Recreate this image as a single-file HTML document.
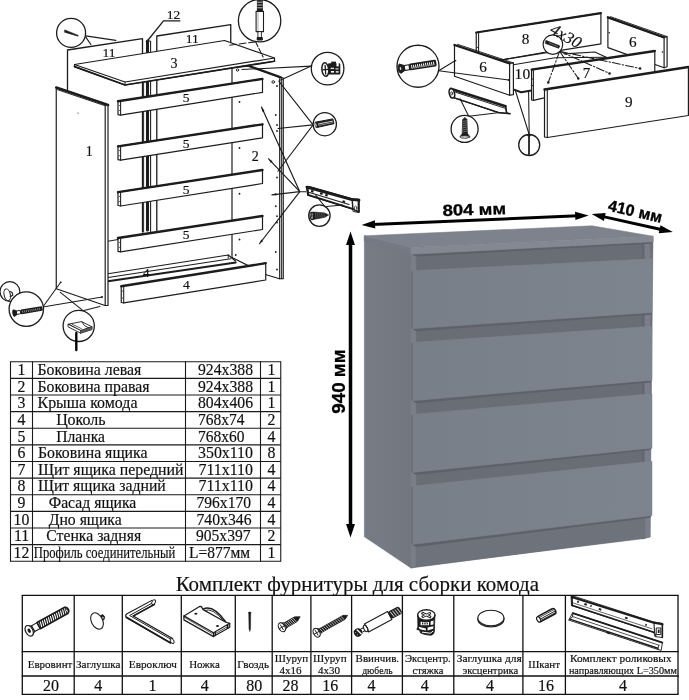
<!DOCTYPE html>
<html><head><meta charset="utf-8"><title>Комод</title>
<style>
html,body{margin:0;padding:0;background:#fff;}
body{width:689px;height:700px;overflow:hidden;font-family:"Liberation Serif",serif;}
svg{display:block;}
</style></head><body>
<svg style="will-change:transform;filter:blur(0.4px)" width="689" height="700" viewBox="0 0 689 700">
<rect width="689" height="700" fill="#fff"/>
<g id="dresser">
<defs><linearGradient id="gSide" x1="0" y1="0" x2="1" y2="0"><stop offset="0" stop-color="#767b85"/><stop offset="1" stop-color="#72777f"/></linearGradient><linearGradient id="gDraw" x1="0" y1="0" x2="1" y2="0"><stop offset="0" stop-color="#797f89"/><stop offset="1" stop-color="#7e848e"/></linearGradient></defs>
<polygon points="364.30,236.00 410.90,247.50 410.90,568.00 364.30,536.80" fill="url(#gSide)" stroke="url(#gSide)" stroke-width="0.5" />
<polygon points="410.75,250.00 653.00,238.00 650.00,537.00 410.75,568.00" fill="#696d76" stroke="#696d76" stroke-width="0.5" />
<polygon points="410.90,254.25 416.00,254.00 416.00,567.00 410.90,568.00" fill="#797e88" stroke="#797e88" stroke-width="0.5" />
<polygon points="642.20,242.20 644.80,242.10 644.80,538.40 642.20,538.90" fill="#626770" stroke="#626770" stroke-width="0.5" />
<polygon points="644.80,242.20 650.20,241.90 650.20,537.00 644.80,538.50" fill="#797e88" stroke="#797e88" stroke-width="0.5" />
<polygon points="416.00,545.00 644.80,516.50 644.80,538.50 416.00,566.60" fill="#6d727b" stroke="#6d727b" stroke-width="0.5" />
<polygon points="412.00,328.75 652.00,312.50 650.00,314.70 416.00,331.15" fill="#5d616a" />
<polygon points="411.60,270.75 652.00,258.75 652.00,312.50 411.60,328.75" fill="url(#gDraw)" stroke="url(#gDraw)" stroke-width="0.5" />
<line x1="412.00" y1="271.25" x2="412.00" y2="328.45" stroke="#646973" stroke-width="1.30" />
<polygon points="412.00,400.75 652.00,380.20 650.00,382.40 416.00,403.15" fill="#5d616a" />
<polygon points="411.60,342.50 652.00,326.25 652.00,380.20 411.60,400.75" fill="url(#gDraw)" stroke="url(#gDraw)" stroke-width="0.5" />
<line x1="412.00" y1="343.00" x2="412.00" y2="400.45" stroke="#646973" stroke-width="1.30" />
<polygon points="412.00,472.50 652.00,447.90 650.00,450.10 416.00,474.90" fill="#5d616a" />
<polygon points="411.60,414.50 652.00,393.75 652.00,447.90 411.60,472.50" fill="url(#gDraw)" stroke="url(#gDraw)" stroke-width="0.5" />
<line x1="412.00" y1="415.00" x2="412.00" y2="472.20" stroke="#646973" stroke-width="1.30" />
<polygon points="412.00,544.50 652.00,515.50 650.00,517.70 416.00,546.90" fill="#5d616a" />
<polygon points="411.60,486.25 652.00,461.25 652.00,515.50 411.60,544.50" fill="url(#gDraw)" stroke="url(#gDraw)" stroke-width="0.5" />
<line x1="412.00" y1="486.75" x2="412.00" y2="544.20" stroke="#646973" stroke-width="1.30" />
<polygon points="410.90,254.25 653.25,241.75 650.00,243.80 416.00,256.60" fill="#5d616a" />
<polygon points="364.30,235.75 410.90,247.50 410.90,254.25 364.30,241.00" fill="#747983" stroke="#747983" stroke-width="0.5" />
<polygon points="410.90,247.50 653.25,236.25 653.25,241.75 410.90,254.25" fill="#838892" stroke="#838892" stroke-width="0.5" />
<polygon points="364.30,235.75 592.00,225.75 653.25,236.25 410.90,247.50" fill="#7d828c" stroke="#7d828c" stroke-width="0.5" />
</g>
<g id="dims">
<line x1="372.39" y1="224.45" x2="577.91" y2="215.85" stroke="#000" stroke-width="3.00" />
<polygon points="361.60,224.90 375.26,228.43 374.92,220.24" fill="#000" />
<polygon points="588.70,215.40 575.38,220.06 575.04,211.87" fill="#000" />
<line x1="602.14" y1="216.35" x2="662.26" y2="229.75" stroke="#000" stroke-width="3.00" />
<polygon points="591.60,214.00 603.88,220.94 605.67,212.94" fill="#000" />
<polygon points="672.80,232.10 658.73,233.16 660.52,225.16" fill="#000" />
<line x1="350.50" y1="242.40" x2="350.50" y2="526.80" stroke="#000" stroke-width="3.50" />
<polygon points="350.50,231.60 346.05,245.10 354.95,245.10" fill="#000" />
<polygon points="350.50,537.60 346.05,524.10 354.95,524.10" fill="#000" />
<text x="474.50" y="215.00" font-family="'Liberation Sans', sans-serif" font-size="16" font-weight="bold" text-anchor="middle" fill="#000" textLength="63.7" lengthAdjust="spacingAndGlyphs"  stroke="#000" stroke-width="0.3" transform="rotate(-1.6 474.5 215)">804 мм</text>
<text x="607.20" y="210.60" font-family="'Liberation Sans', sans-serif" font-size="16" font-weight="bold" text-anchor="start" fill="#000" textLength="55" lengthAdjust="spacingAndGlyphs"  stroke="#000" stroke-width="0.35" transform="rotate(12.8 607.2 210.6)">410 мм</text>
<text x="345.00" y="381.50" font-family="'Liberation Sans', sans-serif" font-size="18" font-weight="bold" text-anchor="middle" fill="#000" textLength="64.3" lengthAdjust="spacingAndGlyphs"  stroke="#000" stroke-width="0.3" transform="rotate(-90 345 381.5)">940 мм</text>
</g>
<g id="parts-table">
<line x1="10.50" y1="361.75" x2="280.75" y2="361.75" stroke="#1a1a1a" stroke-width="1.10" />
<line x1="10.50" y1="378.38" x2="280.75" y2="378.38" stroke="#1a1a1a" stroke-width="1.10" />
<line x1="10.50" y1="395.00" x2="280.75" y2="395.00" stroke="#1a1a1a" stroke-width="1.10" />
<line x1="10.50" y1="411.62" x2="280.75" y2="411.62" stroke="#1a1a1a" stroke-width="1.10" />
<line x1="10.50" y1="428.25" x2="280.75" y2="428.25" stroke="#1a1a1a" stroke-width="1.10" />
<line x1="10.50" y1="444.88" x2="280.75" y2="444.88" stroke="#1a1a1a" stroke-width="1.10" />
<line x1="10.50" y1="461.50" x2="280.75" y2="461.50" stroke="#1a1a1a" stroke-width="1.10" />
<line x1="10.50" y1="478.12" x2="280.75" y2="478.12" stroke="#1a1a1a" stroke-width="1.10" />
<line x1="10.50" y1="494.75" x2="280.75" y2="494.75" stroke="#1a1a1a" stroke-width="1.10" />
<line x1="10.50" y1="511.38" x2="280.75" y2="511.38" stroke="#1a1a1a" stroke-width="1.10" />
<line x1="10.50" y1="528.00" x2="280.75" y2="528.00" stroke="#1a1a1a" stroke-width="1.10" />
<line x1="10.50" y1="544.62" x2="280.75" y2="544.62" stroke="#1a1a1a" stroke-width="1.10" />
<line x1="10.50" y1="561.25" x2="280.75" y2="561.25" stroke="#1a1a1a" stroke-width="1.10" />
<line x1="10.50" y1="361.25" x2="10.50" y2="561.75" stroke="#1a1a1a" stroke-width="1.10" />
<line x1="32.50" y1="361.25" x2="32.50" y2="561.75" stroke="#1a1a1a" stroke-width="1.10" />
<line x1="185.50" y1="361.25" x2="185.50" y2="561.75" stroke="#1a1a1a" stroke-width="1.10" />
<line x1="260.50" y1="361.25" x2="260.50" y2="561.75" stroke="#1a1a1a" stroke-width="1.10" />
<line x1="280.75" y1="361.25" x2="280.75" y2="561.75" stroke="#1a1a1a" stroke-width="1.10" />
<text x="21.50" y="375.05" font-family="'Liberation Serif', serif" font-size="15.8" font-weight="normal" text-anchor="middle" fill="#111" stroke="#111" stroke-width="0.18" >1</text>
<text x="37.50" y="375.05" font-family="'Liberation Serif', serif" font-size="15.8" font-weight="normal" text-anchor="start" fill="#111" textLength="103.75" lengthAdjust="spacingAndGlyphs" stroke="#111" stroke-width="0.18" >Боковина левая</text>
<text x="198.00" y="375.05" font-family="'Liberation Serif', serif" font-size="15.8" font-weight="normal" text-anchor="start" fill="#111" textLength="55" lengthAdjust="spacingAndGlyphs" stroke="#111" stroke-width="0.18" >924x388</text>
<text x="271.50" y="375.05" font-family="'Liberation Serif', serif" font-size="15.8" font-weight="normal" text-anchor="middle" fill="#111" stroke="#111" stroke-width="0.18" >1</text>
<text x="21.50" y="391.68" font-family="'Liberation Serif', serif" font-size="15.8" font-weight="normal" text-anchor="middle" fill="#111" stroke="#111" stroke-width="0.18" >2</text>
<text x="37.50" y="391.68" font-family="'Liberation Serif', serif" font-size="15.8" font-weight="normal" text-anchor="start" fill="#111" textLength="112" lengthAdjust="spacingAndGlyphs" stroke="#111" stroke-width="0.18" >Боковина правая</text>
<text x="198.00" y="391.68" font-family="'Liberation Serif', serif" font-size="15.8" font-weight="normal" text-anchor="start" fill="#111" textLength="55" lengthAdjust="spacingAndGlyphs" stroke="#111" stroke-width="0.18" >924x388</text>
<text x="271.50" y="391.68" font-family="'Liberation Serif', serif" font-size="15.8" font-weight="normal" text-anchor="middle" fill="#111" stroke="#111" stroke-width="0.18" >1</text>
<text x="21.50" y="408.30" font-family="'Liberation Serif', serif" font-size="15.8" font-weight="normal" text-anchor="middle" fill="#111" stroke="#111" stroke-width="0.18" >3</text>
<text x="37.50" y="408.30" font-family="'Liberation Serif', serif" font-size="15.8" font-weight="normal" text-anchor="start" fill="#111" textLength="100" lengthAdjust="spacingAndGlyphs" stroke="#111" stroke-width="0.18" >Крыша комода</text>
<text x="198.00" y="408.30" font-family="'Liberation Serif', serif" font-size="15.8" font-weight="normal" text-anchor="start" fill="#111" textLength="55" lengthAdjust="spacingAndGlyphs" stroke="#111" stroke-width="0.18" >804x406</text>
<text x="271.50" y="408.30" font-family="'Liberation Serif', serif" font-size="15.8" font-weight="normal" text-anchor="middle" fill="#111" stroke="#111" stroke-width="0.18" >1</text>
<text x="21.50" y="424.93" font-family="'Liberation Serif', serif" font-size="15.8" font-weight="normal" text-anchor="middle" fill="#111" stroke="#111" stroke-width="0.18" >4</text>
<text x="56.25" y="424.93" font-family="'Liberation Serif', serif" font-size="15.8" font-weight="normal" text-anchor="start" fill="#111" textLength="49.25" lengthAdjust="spacingAndGlyphs" stroke="#111" stroke-width="0.18" >Цоколь</text>
<text x="198.00" y="424.93" font-family="'Liberation Serif', serif" font-size="15.8" font-weight="normal" text-anchor="start" fill="#111" textLength="46.5" lengthAdjust="spacingAndGlyphs" stroke="#111" stroke-width="0.18" >768x74</text>
<text x="271.50" y="424.93" font-family="'Liberation Serif', serif" font-size="15.8" font-weight="normal" text-anchor="middle" fill="#111" stroke="#111" stroke-width="0.18" >2</text>
<text x="21.50" y="441.55" font-family="'Liberation Serif', serif" font-size="15.8" font-weight="normal" text-anchor="middle" fill="#111" stroke="#111" stroke-width="0.18" >5</text>
<text x="56.25" y="441.55" font-family="'Liberation Serif', serif" font-size="15.8" font-weight="normal" text-anchor="start" fill="#111" textLength="48.75" lengthAdjust="spacingAndGlyphs" stroke="#111" stroke-width="0.18" >Планка</text>
<text x="198.00" y="441.55" font-family="'Liberation Serif', serif" font-size="15.8" font-weight="normal" text-anchor="start" fill="#111" textLength="46.5" lengthAdjust="spacingAndGlyphs" stroke="#111" stroke-width="0.18" >768x60</text>
<text x="271.50" y="441.55" font-family="'Liberation Serif', serif" font-size="15.8" font-weight="normal" text-anchor="middle" fill="#111" stroke="#111" stroke-width="0.18" >4</text>
<text x="21.50" y="458.18" font-family="'Liberation Serif', serif" font-size="15.8" font-weight="normal" text-anchor="middle" fill="#111" stroke="#111" stroke-width="0.18" >6</text>
<text x="38.00" y="458.18" font-family="'Liberation Serif', serif" font-size="15.8" font-weight="normal" text-anchor="start" fill="#111" textLength="109.5" lengthAdjust="spacingAndGlyphs" stroke="#111" stroke-width="0.18" >Боковина ящика</text>
<text x="198.00" y="458.18" font-family="'Liberation Serif', serif" font-size="15.8" font-weight="normal" text-anchor="start" fill="#111" textLength="55" lengthAdjust="spacingAndGlyphs" stroke="#111" stroke-width="0.18" >350x110</text>
<text x="271.50" y="458.18" font-family="'Liberation Serif', serif" font-size="15.8" font-weight="normal" text-anchor="middle" fill="#111" stroke="#111" stroke-width="0.18" >8</text>
<text x="21.50" y="474.80" font-family="'Liberation Serif', serif" font-size="15.8" font-weight="normal" text-anchor="middle" fill="#111" stroke="#111" stroke-width="0.18" >7</text>
<text x="38.00" y="474.80" font-family="'Liberation Serif', serif" font-size="15.8" font-weight="normal" text-anchor="start" fill="#111" textLength="145.5" lengthAdjust="spacingAndGlyphs" stroke="#111" stroke-width="0.18" >Щит ящика передний</text>
<text x="198.50" y="474.80" font-family="'Liberation Serif', serif" font-size="15.8" font-weight="normal" text-anchor="start" fill="#111" textLength="54.5" lengthAdjust="spacingAndGlyphs" stroke="#111" stroke-width="0.18" >711x110</text>
<text x="271.50" y="474.80" font-family="'Liberation Serif', serif" font-size="15.8" font-weight="normal" text-anchor="middle" fill="#111" stroke="#111" stroke-width="0.18" >4</text>
<text x="21.50" y="491.43" font-family="'Liberation Serif', serif" font-size="15.8" font-weight="normal" text-anchor="middle" fill="#111" stroke="#111" stroke-width="0.18" >8</text>
<text x="38.00" y="491.43" font-family="'Liberation Serif', serif" font-size="15.8" font-weight="normal" text-anchor="start" fill="#111" textLength="127.75" lengthAdjust="spacingAndGlyphs" stroke="#111" stroke-width="0.18" >Щит ящика задний</text>
<text x="198.50" y="491.43" font-family="'Liberation Serif', serif" font-size="15.8" font-weight="normal" text-anchor="start" fill="#111" textLength="54.5" lengthAdjust="spacingAndGlyphs" stroke="#111" stroke-width="0.18" >711x110</text>
<text x="271.50" y="491.43" font-family="'Liberation Serif', serif" font-size="15.8" font-weight="normal" text-anchor="middle" fill="#111" stroke="#111" stroke-width="0.18" >4</text>
<text x="21.50" y="508.05" font-family="'Liberation Serif', serif" font-size="15.8" font-weight="normal" text-anchor="middle" fill="#111" stroke="#111" stroke-width="0.18" >9</text>
<text x="48.75" y="508.05" font-family="'Liberation Serif', serif" font-size="15.8" font-weight="normal" text-anchor="start" fill="#111" textLength="87.5" lengthAdjust="spacingAndGlyphs" stroke="#111" stroke-width="0.18" >Фасад ящика</text>
<text x="196.50" y="508.05" font-family="'Liberation Serif', serif" font-size="15.8" font-weight="normal" text-anchor="start" fill="#111" textLength="54.5" lengthAdjust="spacingAndGlyphs" stroke="#111" stroke-width="0.18" >796x170</text>
<text x="271.50" y="508.05" font-family="'Liberation Serif', serif" font-size="15.8" font-weight="normal" text-anchor="middle" fill="#111" stroke="#111" stroke-width="0.18" >4</text>
<text x="21.50" y="524.67" font-family="'Liberation Serif', serif" font-size="15.8" font-weight="normal" text-anchor="middle" fill="#111" stroke="#111" stroke-width="0.18" >10</text>
<text x="48.75" y="524.67" font-family="'Liberation Serif', serif" font-size="15.8" font-weight="normal" text-anchor="start" fill="#111" textLength="73" lengthAdjust="spacingAndGlyphs" stroke="#111" stroke-width="0.18" >Дно ящика</text>
<text x="196.50" y="524.67" font-family="'Liberation Serif', serif" font-size="15.8" font-weight="normal" text-anchor="start" fill="#111" textLength="55" lengthAdjust="spacingAndGlyphs" stroke="#111" stroke-width="0.18" >740x346</text>
<text x="271.50" y="524.67" font-family="'Liberation Serif', serif" font-size="15.8" font-weight="normal" text-anchor="middle" fill="#111" stroke="#111" stroke-width="0.18" >4</text>
<text x="21.50" y="541.30" font-family="'Liberation Serif', serif" font-size="15.8" font-weight="normal" text-anchor="middle" fill="#111" stroke="#111" stroke-width="0.18" >11</text>
<text x="46.25" y="541.30" font-family="'Liberation Serif', serif" font-size="15.8" font-weight="normal" text-anchor="start" fill="#111" textLength="95" lengthAdjust="spacingAndGlyphs" stroke="#111" stroke-width="0.18" >Стенка задняя</text>
<text x="196.00" y="541.30" font-family="'Liberation Serif', serif" font-size="15.8" font-weight="normal" text-anchor="start" fill="#111" textLength="54.5" lengthAdjust="spacingAndGlyphs" stroke="#111" stroke-width="0.18" >905x397</text>
<text x="271.50" y="541.30" font-family="'Liberation Serif', serif" font-size="15.8" font-weight="normal" text-anchor="middle" fill="#111" stroke="#111" stroke-width="0.18" >2</text>
<text x="21.50" y="557.92" font-family="'Liberation Serif', serif" font-size="15.8" font-weight="normal" text-anchor="middle" fill="#111" stroke="#111" stroke-width="0.18" >12</text>
<text x="33.75" y="557.92" font-family="'Liberation Serif', serif" font-size="15.8" font-weight="normal" text-anchor="start" fill="#111" textLength="141.5" lengthAdjust="spacingAndGlyphs" stroke="#111" stroke-width="0.18" >Профиль соединительный</text>
<text x="189.00" y="557.92" font-family="'Liberation Serif', serif" font-size="15.8" font-weight="normal" text-anchor="start" fill="#111" textLength="61" lengthAdjust="spacingAndGlyphs" stroke="#111" stroke-width="0.18" >L=877мм</text>
<text x="271.50" y="557.92" font-family="'Liberation Serif', serif" font-size="15.8" font-weight="normal" text-anchor="middle" fill="#111" stroke="#111" stroke-width="0.18" >1</text>
</g>
<g id="hw-table">
<line x1="21.70" y1="595.30" x2="678.60" y2="595.30" stroke="#111" stroke-width="1.30" />
<line x1="21.70" y1="651.60" x2="678.60" y2="651.60" stroke="#111" stroke-width="1.30" />
<line x1="21.70" y1="676.00" x2="678.60" y2="676.00" stroke="#111" stroke-width="1.30" />
<line x1="21.70" y1="694.30" x2="678.60" y2="694.30" stroke="#111" stroke-width="1.30" />
<line x1="22.30" y1="595.30" x2="22.30" y2="694.30" stroke="#111" stroke-width="1.30" />
<line x1="74.20" y1="595.30" x2="74.20" y2="694.30" stroke="#111" stroke-width="1.30" />
<line x1="122.30" y1="595.30" x2="122.30" y2="694.30" stroke="#111" stroke-width="1.30" />
<line x1="181.30" y1="595.30" x2="181.30" y2="694.30" stroke="#111" stroke-width="1.30" />
<line x1="235.30" y1="595.30" x2="235.30" y2="694.30" stroke="#111" stroke-width="1.30" />
<line x1="272.20" y1="595.30" x2="272.20" y2="694.30" stroke="#111" stroke-width="1.30" />
<line x1="310.90" y1="595.30" x2="310.90" y2="694.30" stroke="#111" stroke-width="1.30" />
<line x1="351.60" y1="595.30" x2="351.60" y2="694.30" stroke="#111" stroke-width="1.30" />
<line x1="402.40" y1="595.30" x2="402.40" y2="694.30" stroke="#111" stroke-width="1.30" />
<line x1="453.80" y1="595.30" x2="453.80" y2="694.30" stroke="#111" stroke-width="1.30" />
<line x1="522.90" y1="595.30" x2="522.90" y2="694.30" stroke="#111" stroke-width="1.30" />
<line x1="565.40" y1="595.30" x2="565.40" y2="694.30" stroke="#111" stroke-width="1.30" />
<line x1="678.00" y1="595.30" x2="678.00" y2="694.30" stroke="#111" stroke-width="1.30" />
<text x="175.70" y="591.30" font-family="'Liberation Serif', serif" font-size="21" font-weight="normal" text-anchor="start" fill="#111" textLength="363.3" lengthAdjust="spacingAndGlyphs" stroke="#111" stroke-width="0.18" >Комплект фурнитуры для сборки комода</text>
<text x="27.70" y="667.60" font-family="'Liberation Serif', serif" font-size="11.2" font-weight="normal" text-anchor="start" fill="#111" textLength="44.7" lengthAdjust="spacingAndGlyphs" stroke="#111" stroke-width="0.18" >Евровинт</text>
<text x="75.90" y="667.60" font-family="'Liberation Serif', serif" font-size="11.2" font-weight="normal" text-anchor="start" fill="#111" textLength="44.7" lengthAdjust="spacingAndGlyphs" stroke="#111" stroke-width="0.18" >Заглушка</text>
<text x="128.80" y="667.60" font-family="'Liberation Serif', serif" font-size="11.2" font-weight="normal" text-anchor="start" fill="#111" textLength="48.1" lengthAdjust="spacingAndGlyphs" stroke="#111" stroke-width="0.18" >Евроключ</text>
<text x="189.20" y="667.60" font-family="'Liberation Serif', serif" font-size="11.2" font-weight="normal" text-anchor="start" fill="#111" textLength="30.7" lengthAdjust="spacingAndGlyphs" stroke="#111" stroke-width="0.18" >Ножка</text>
<text x="237.30" y="667.60" font-family="'Liberation Serif', serif" font-size="11.2" font-weight="normal" text-anchor="start" fill="#111" textLength="31.8" lengthAdjust="spacingAndGlyphs" stroke="#111" stroke-width="0.18" >Гвоздь</text>
<text x="274.80" y="661.60" font-family="'Liberation Serif', serif" font-size="10.7" font-weight="normal" text-anchor="start" fill="#111" textLength="33.4" lengthAdjust="spacingAndGlyphs" stroke="#111" stroke-width="0.18" >Шуруп</text>
<text x="279.60" y="673.60" font-family="'Liberation Serif', serif" font-size="10.7" font-weight="normal" text-anchor="start" fill="#111" textLength="22" lengthAdjust="spacingAndGlyphs" stroke="#111" stroke-width="0.18" >4x16</text>
<text x="313.00" y="661.60" font-family="'Liberation Serif', serif" font-size="10.7" font-weight="normal" text-anchor="start" fill="#111" textLength="33.6" lengthAdjust="spacingAndGlyphs" stroke="#111" stroke-width="0.18" >Шуруп</text>
<text x="318.00" y="673.60" font-family="'Liberation Serif', serif" font-size="10.7" font-weight="normal" text-anchor="start" fill="#111" textLength="22" lengthAdjust="spacingAndGlyphs" stroke="#111" stroke-width="0.18" >4x30</text>
<text x="355.60" y="662.20" font-family="'Liberation Serif', serif" font-size="10.7" font-weight="normal" text-anchor="start" fill="#111" textLength="43.5" lengthAdjust="spacingAndGlyphs" stroke="#111" stroke-width="0.18" >Ввинчив.</text>
<text x="362.20" y="673.60" font-family="'Liberation Serif', serif" font-size="10.7" font-weight="normal" text-anchor="start" fill="#111" textLength="30.5" lengthAdjust="spacingAndGlyphs" stroke="#111" stroke-width="0.18" >дюбель</text>
<text x="404.90" y="662.20" font-family="'Liberation Serif', serif" font-size="10.7" font-weight="normal" text-anchor="start" fill="#111" textLength="45.9" lengthAdjust="spacingAndGlyphs" stroke="#111" stroke-width="0.18" >Эксцентр.</text>
<text x="412.50" y="673.60" font-family="'Liberation Serif', serif" font-size="10.7" font-weight="normal" text-anchor="start" fill="#111" textLength="31" lengthAdjust="spacingAndGlyphs" stroke="#111" stroke-width="0.18" >стяжка</text>
<text x="456.70" y="661.80" font-family="'Liberation Serif', serif" font-size="10.7" font-weight="normal" text-anchor="start" fill="#111" textLength="65.1" lengthAdjust="spacingAndGlyphs" stroke="#111" stroke-width="0.18" >Заглушка для</text>
<text x="462.70" y="674.00" font-family="'Liberation Serif', serif" font-size="10.7" font-weight="normal" text-anchor="start" fill="#111" textLength="55.6" lengthAdjust="spacingAndGlyphs" stroke="#111" stroke-width="0.18" >эксцентрика</text>
<text x="528.20" y="668.20" font-family="'Liberation Serif', serif" font-size="11.2" font-weight="normal" text-anchor="start" fill="#111" textLength="31.9" lengthAdjust="spacingAndGlyphs" stroke="#111" stroke-width="0.18" >Шкант</text>
<text x="570.00" y="661.80" font-family="'Liberation Serif', serif" font-size="10.7" font-weight="normal" text-anchor="start" fill="#111" textLength="101.6" lengthAdjust="spacingAndGlyphs" stroke="#111" stroke-width="0.18" >Комплект роликовых</text>
<text x="568.90" y="674.00" font-family="'Liberation Serif', serif" font-size="10.2" font-weight="normal" text-anchor="start" fill="#111" textLength="108" lengthAdjust="spacingAndGlyphs" stroke="#111" stroke-width="0.18" >направляющих L=350мм</text>
<text x="51.10" y="690.60" font-family="'Liberation Serif', serif" font-size="16" font-weight="normal" text-anchor="middle" fill="#111" stroke="#111" stroke-width="0.18" >20</text>
<text x="98.30" y="690.60" font-family="'Liberation Serif', serif" font-size="16" font-weight="normal" text-anchor="middle" fill="#111" stroke="#111" stroke-width="0.18" >4</text>
<text x="152.50" y="690.60" font-family="'Liberation Serif', serif" font-size="16" font-weight="normal" text-anchor="middle" fill="#111" stroke="#111" stroke-width="0.18" >1</text>
<text x="204.80" y="690.60" font-family="'Liberation Serif', serif" font-size="16" font-weight="normal" text-anchor="middle" fill="#111" stroke="#111" stroke-width="0.18" >4</text>
<text x="254.20" y="690.60" font-family="'Liberation Serif', serif" font-size="16" font-weight="normal" text-anchor="middle" fill="#111" stroke="#111" stroke-width="0.18" >80</text>
<text x="290.50" y="690.60" font-family="'Liberation Serif', serif" font-size="16" font-weight="normal" text-anchor="middle" fill="#111" stroke="#111" stroke-width="0.18" >28</text>
<text x="330.30" y="690.60" font-family="'Liberation Serif', serif" font-size="16" font-weight="normal" text-anchor="middle" fill="#111" stroke="#111" stroke-width="0.18" >16</text>
<text x="371.50" y="690.60" font-family="'Liberation Serif', serif" font-size="16" font-weight="normal" text-anchor="middle" fill="#111" stroke="#111" stroke-width="0.18" >4</text>
<text x="424.70" y="690.60" font-family="'Liberation Serif', serif" font-size="16" font-weight="normal" text-anchor="middle" fill="#111" stroke="#111" stroke-width="0.18" >4</text>
<text x="490.00" y="690.60" font-family="'Liberation Serif', serif" font-size="16" font-weight="normal" text-anchor="middle" fill="#111" stroke="#111" stroke-width="0.18" >4</text>
<text x="545.90" y="690.60" font-family="'Liberation Serif', serif" font-size="16" font-weight="normal" text-anchor="middle" fill="#111" stroke="#111" stroke-width="0.18" >16</text>
<text x="623.10" y="690.60" font-family="'Liberation Serif', serif" font-size="16" font-weight="normal" text-anchor="middle" fill="#111" stroke="#111" stroke-width="0.18" >4</text>
</g>
<g id="exploded" stroke-linecap="round" stroke-linejoin="round">
<polyline points="67.50,90.00 67.50,50.00 142.50,38.60 142.50,232.00" fill="#fff" stroke="#1c1c1c" stroke-width="1.30" />
<polyline points="156.80,232.00 156.80,36.00 230.75,24.60 230.75,60.00" fill="#fff" stroke="#1c1c1c" stroke-width="1.30" />
<text x="109.00" y="56.50" font-family="'Liberation Serif', serif" font-size="13.5" font-weight="normal" text-anchor="middle" fill="#111" stroke="#111" stroke-width="0.18" >11</text>
<text x="192.30" y="43.30" font-family="'Liberation Serif', serif" font-size="13.5" font-weight="normal" text-anchor="middle" fill="#111" stroke="#111" stroke-width="0.18" >11</text>
<line x1="143.60" y1="54.00" x2="143.60" y2="232.00" stroke="#1c1c1c" stroke-width="0.94" />
<line x1="147.50" y1="41.00" x2="147.50" y2="230.00" stroke="#1c1c1c" stroke-width="3.07" />
<line x1="150.60" y1="41.50" x2="150.60" y2="232.00" stroke="#1c1c1c" stroke-width="1.06" />
<polyline points="146.20,41.60 147.50,40.60 150.60,41.20" fill="none" stroke="#1c1c1c" stroke-width="1.06" />
<polyline points="179.80,20.90 163.50,20.90 146.90,41.50" fill="none" stroke="#1c1c1c" stroke-width="1.30" />
<text x="173.60" y="19.00" font-family="'Liberation Serif', serif" font-size="13.5" font-weight="normal" text-anchor="middle" fill="#111" stroke="#111" stroke-width="0.18" >12</text>
<polygon points="232.00,67.50 232.00,257.50 267.00,275.00 279.50,278.75 283.25,278.75 283.25,78.00 280.75,77.30 249.50,66.25" fill="#fff" stroke="#1c1c1c" stroke-width="1.18" />
<line x1="279.70" y1="78.50" x2="279.70" y2="278.75" stroke="#1c1c1c" stroke-width="1.18" />
<line x1="281.60" y1="78.50" x2="281.60" y2="278.75" stroke="#1c1c1c" stroke-width="0.94" />
<polyline points="249.50,66.25 280.75,77.30" fill="none" stroke="#1c1c1c" stroke-width="2.36" />
<circle cx="239.50" cy="102.00" r="0.9" fill="#1c1c1c"/>
<circle cx="239.50" cy="148.00" r="0.9" fill="#1c1c1c"/>
<circle cx="239.50" cy="193.75" r="0.9" fill="#1c1c1c"/>
<circle cx="239.50" cy="239.50" r="0.9" fill="#1c1c1c"/>
<circle cx="235.70" cy="255.00" r="0.9" fill="#1c1c1c"/>
<circle cx="275.75" cy="115.00" r="0.9" fill="#1c1c1c"/>
<circle cx="277.00" cy="125.00" r="0.9" fill="#1c1c1c"/>
<circle cx="277.00" cy="131.00" r="0.9" fill="#1c1c1c"/>
<circle cx="277.00" cy="177.50" r="0.9" fill="#1c1c1c"/>
<circle cx="275.75" cy="206.25" r="0.9" fill="#1c1c1c"/>
<circle cx="277.00" cy="216.25" r="0.9" fill="#1c1c1c"/>
<circle cx="277.00" cy="222.50" r="0.9" fill="#1c1c1c"/>
<circle cx="275.75" cy="252.00" r="0.9" fill="#1c1c1c"/>
<circle cx="277.00" cy="269.50" r="0.9" fill="#1c1c1c"/>
<circle cx="277.00" cy="86.00" r="0.9" fill="#1c1c1c"/>
<circle cx="237.50" cy="70.00" r="1.20" fill="#fff" stroke="#1c1c1c" stroke-width="0.94"/>
<circle cx="273.25" cy="82.00" r="1.30" fill="#fff" stroke="#1c1c1c" stroke-width="0.94"/>
<text x="255.30" y="161.00" font-family="'Liberation Serif', serif" font-size="14" font-weight="normal" text-anchor="middle" fill="#111" stroke="#111" stroke-width="0.18" >2</text>
<polyline points="108.00,273.75 228.25,255.00 235.50,261.00" fill="none" stroke="#1c1c1c" stroke-width="1.18" />
<polyline points="108.00,277.50 230.75,258.75" fill="none" stroke="#1c1c1c" stroke-width="1.18" />
<polyline points="108.00,281.25 235.75,262.50" fill="none" stroke="#1c1c1c" stroke-width="1.89" />
<polyline points="228.25,255.00 228.25,258.00" fill="none" stroke="#1c1c1c" stroke-width="0.94" />
<text x="146.25" y="276.50" font-family="'Liberation Serif', serif" font-size="13" font-weight="normal" text-anchor="middle" fill="#111" stroke="#111" stroke-width="0.18" >4</text>
<polygon points="118.00,101.25 262.50,78.90 262.50,92.40 120.60,115.05 118.00,114.55" fill="#fff" stroke="#1c1c1c" stroke-width="1.18" />
<polyline points="118.00,101.25 262.50,78.90" fill="none" stroke="#1c1c1c" stroke-width="2.36" />
<polyline points="120.60,101.55 120.60,115.05" fill="none" stroke="#1c1c1c" stroke-width="1.06" />
<circle cx="119.30" cy="105.45" r="0.5" fill="#1c1c1c"/>
<circle cx="119.30" cy="110.55" r="0.5" fill="#1c1c1c"/>
<text x="186.00" y="102.00" font-family="'Liberation Serif', serif" font-size="13.5" font-weight="normal" text-anchor="middle" fill="#111" stroke="#111" stroke-width="0.18" >5</text>
<polygon points="118.00,146.40 262.50,124.30 262.50,137.80 120.60,160.20 118.00,159.70" fill="#fff" stroke="#1c1c1c" stroke-width="1.18" />
<polyline points="118.00,146.40 262.50,124.30" fill="none" stroke="#1c1c1c" stroke-width="2.36" />
<polyline points="120.60,146.70 120.60,160.20" fill="none" stroke="#1c1c1c" stroke-width="1.06" />
<circle cx="119.30" cy="150.60" r="0.5" fill="#1c1c1c"/>
<circle cx="119.30" cy="155.70" r="0.5" fill="#1c1c1c"/>
<text x="186.00" y="147.50" font-family="'Liberation Serif', serif" font-size="13.5" font-weight="normal" text-anchor="middle" fill="#111" stroke="#111" stroke-width="0.18" >5</text>
<polygon points="118.00,192.20 262.50,170.00 262.50,183.50 120.60,206.00 118.00,205.50" fill="#fff" stroke="#1c1c1c" stroke-width="1.18" />
<polyline points="118.00,192.20 262.50,170.00" fill="none" stroke="#1c1c1c" stroke-width="2.36" />
<polyline points="120.60,192.50 120.60,206.00" fill="none" stroke="#1c1c1c" stroke-width="1.06" />
<circle cx="119.30" cy="196.40" r="0.5" fill="#1c1c1c"/>
<circle cx="119.30" cy="201.50" r="0.5" fill="#1c1c1c"/>
<text x="186.00" y="193.50" font-family="'Liberation Serif', serif" font-size="13.5" font-weight="normal" text-anchor="middle" fill="#111" stroke="#111" stroke-width="0.18" >5</text>
<polygon points="118.00,238.00 262.50,216.00 262.50,229.50 120.60,251.80 118.00,251.30" fill="#fff" stroke="#1c1c1c" stroke-width="1.18" />
<polyline points="118.00,238.00 262.50,216.00" fill="none" stroke="#1c1c1c" stroke-width="2.36" />
<polyline points="120.60,238.30 120.60,251.80" fill="none" stroke="#1c1c1c" stroke-width="1.06" />
<circle cx="119.30" cy="242.20" r="0.5" fill="#1c1c1c"/>
<circle cx="119.30" cy="247.30" r="0.5" fill="#1c1c1c"/>
<text x="186.00" y="239.30" font-family="'Liberation Serif', serif" font-size="13.5" font-weight="normal" text-anchor="middle" fill="#111" stroke="#111" stroke-width="0.18" >5</text>
<line x1="108.00" y1="241.25" x2="118.00" y2="239.60" stroke="#1c1c1c" stroke-width="1.06" />
<polygon points="74.50,64.50 224.50,40.50 274.50,58.00 274.50,61.25 125.00,85.00 74.50,66.60" fill="#fff" stroke="#1c1c1c" stroke-width="1.18" />
<polyline points="74.50,64.50 125.00,82.00 274.50,58.00" fill="none" stroke="#1c1c1c" stroke-width="1.18" />
<line x1="125.00" y1="82.00" x2="125.00" y2="85.00" stroke="#1c1c1c" stroke-width="0.94" />
<polyline points="74.50,66.60 125.00,85.00 274.50,61.25" fill="none" stroke="#1c1c1c" stroke-width="1.77" />
<text x="174.00" y="68.00" font-family="'Liberation Serif', serif" font-size="14" font-weight="normal" text-anchor="middle" fill="#111" stroke="#111" stroke-width="0.18" >3</text>
<polygon points="56.25,87.50 108.00,105.00 108.00,305.50 105.00,305.50 56.25,288.75" fill="#fff" stroke="#1c1c1c" stroke-width="1.18" />
<line x1="105.20" y1="105.50" x2="105.20" y2="305.50" stroke="#1c1c1c" stroke-width="1.18" />
<polyline points="56.25,87.50 108.00,105.00" fill="none" stroke="#1c1c1c" stroke-width="2.60" />
<polyline points="57.50,89.70 105.20,105.80" fill="none" stroke="#1c1c1c" stroke-width="0.94" />
<circle cx="78.00" cy="113.00" r="0.6" fill="#1c1c1c"/>
<text x="89.30" y="156.00" font-family="'Liberation Serif', serif" font-size="14" font-weight="normal" text-anchor="middle" fill="#111" stroke="#111" stroke-width="0.18" >1</text>
<polygon points="121.25,286.25 265.75,263.20 265.75,280.00 123.70,302.90 121.25,302.50" fill="#fff" stroke="#1c1c1c" stroke-width="1.18" />
<polyline points="121.25,286.25 265.75,263.20" fill="none" stroke="#1c1c1c" stroke-width="2.36" />
<line x1="123.70" y1="286.30" x2="123.70" y2="302.90" stroke="#1c1c1c" stroke-width="1.06" />
<circle cx="122.50" cy="291.00" r="0.5" fill="#1c1c1c"/>
<circle cx="122.50" cy="298.00" r="0.5" fill="#1c1c1c"/>
<text x="186.30" y="289.00" font-family="'Liberation Serif', serif" font-size="13.5" font-weight="normal" text-anchor="middle" fill="#111" stroke="#111" stroke-width="0.18" >4</text>
</g>
<g id="callouts" stroke-linecap="round" stroke-linejoin="round">
<line x1="85.60" y1="35.80" x2="115.80" y2="40.40" stroke="#1c1c1c" stroke-width="1.18" />
<line x1="85.60" y1="36.90" x2="90.90" y2="44.50" stroke="#1c1c1c" stroke-width="1.18" />
<circle cx="71.10" cy="32.90" r="14.50" fill="#fff" stroke="#1c1c1c" stroke-width="1.30"/>
<polygon points="65.00,30.00 78.30,35.40 78.00,36.20 64.60,32.20" fill="#1c1c1c" stroke="#1c1c1c" stroke-width="0.6" />
<circle cx="259.60" cy="20.70" r="21.20" fill="#fff" stroke="#1c1c1c" stroke-width="1.30"/>
<clipPath id="cpTop"><circle cx="259.6" cy="20.7" r="20.7"/></clipPath>
<g clip-path="url(#cpTop)">
<rect x="256.9" y="-2" width="6" height="13.5" fill="#1c1c1c"/>
<line x1="257.60" y1="2.20" x2="262.20" y2="2.20" stroke="#ddd" stroke-width="0.83" />
<line x1="257.60" y1="5.00" x2="262.20" y2="5.00" stroke="#ddd" stroke-width="0.83" />
<line x1="257.60" y1="7.80" x2="262.20" y2="7.80" stroke="#ddd" stroke-width="0.83" />
<rect x="256.1" y="11.4" width="7.4" height="20.2" fill="#fff" stroke="#1c1c1c" stroke-width="1.1"/>
<line x1="258.00" y1="12.50" x2="258.00" y2="30.50" stroke="#888" stroke-width="0.71" />
<rect x="258.3" y="31.6" width="3.1" height="6" fill="#fff" stroke="#1c1c1c" stroke-width="0.9"/>
<rect x="256.7" y="37.0" width="6.2" height="3.4" rx="1" fill="#1c1c1c"/>
</g>
<line x1="255.50" y1="41.90" x2="229.40" y2="45.20" stroke="#1c1c1c" stroke-width="1.06" stroke-dasharray="7 2.5"/>
<line x1="255.80" y1="42.30" x2="263.10" y2="57.10" stroke="#1c1c1c" stroke-width="1.06" stroke-dasharray="5 2"/>
<line x1="311.20" y1="66.10" x2="242.00" y2="69.50" stroke="#1c1c1c" stroke-width="1.06" />
<line x1="311.20" y1="66.10" x2="280.75" y2="80.00" stroke="#1c1c1c" stroke-width="1.06" />
<circle cx="327.60" cy="68.60" r="16.30" fill="#fff" stroke="#1c1c1c" stroke-width="1.30"/>
<rect x="328" y="63.2" width="12.3" height="11.4" rx="1.2" fill="#1c1c1c"/>
<rect x="331.2" y="61.6" width="4.8" height="3" fill="#1c1c1c"/>
<rect x="336.5" y="63" width="2.2" height="3.4" fill="#fff"/>
<rect x="330.6" y="67.8" width="3.4" height="1.1" fill="#fff"/><rect x="335.5" y="68.4" width="3" height="1" fill="#fff"/>
<rect x="331" y="71" width="3" height="1.6" fill="#fff"/><rect x="335.8" y="71.2" width="2.8" height="1.4" fill="#fff"/>
<ellipse cx="325.3" cy="69.6" rx="3.4" ry="6.8" fill="#fff" stroke="#1c1c1c" stroke-width="1.5" transform="rotate(-6 325.3 69.6)"/>
<line x1="325.10" y1="65.30" x2="325.70" y2="74.00" stroke="#1c1c1c" stroke-width="1.30" />
<line x1="322.80" y1="69.90" x2="327.90" y2="69.30" stroke="#1c1c1c" stroke-width="1.30" />
<line x1="313.10" y1="124.90" x2="278.80" y2="81.10" stroke="#1c1c1c" stroke-width="1.06" />
<line x1="313.10" y1="124.90" x2="277.90" y2="128.50" stroke="#1c1c1c" stroke-width="1.06" />
<line x1="313.10" y1="124.90" x2="277.90" y2="171.20" stroke="#1c1c1c" stroke-width="1.06" />
<circle cx="324.80" cy="124.20" r="11.60" fill="#fff" stroke="#1c1c1c" stroke-width="1.30"/>
<polygon points="315.40,122.20 332.80,118.90 334.00,123.70 316.60,127.60" fill="#1c1c1c" stroke="#1c1c1c" stroke-width="1.0" />
<line x1="318.40" y1="124.00" x2="332.40" y2="121.20" stroke="#fff" stroke-width="0.83" />
<line x1="318.80" y1="125.40" x2="332.80" y2="122.60" stroke="#ccc" stroke-width="0.59" />
<ellipse cx="316.0" cy="124.9" rx="1.0" ry="2.0" fill="#fff" stroke="#1c1c1c" stroke-width="0.6" transform="rotate(-12 316 124.9)"/>
<line x1="299.80" y1="191.70" x2="261.50" y2="107.10" stroke="#1c1c1c" stroke-width="1.18" /><polygon points="261.50,107.10 264.54,110.66 262.17,111.74" fill="#1c1c1c" />
<line x1="299.80" y1="191.70" x2="268.60" y2="158.80" stroke="#1c1c1c" stroke-width="1.18" /><polygon points="268.60,158.80 272.64,161.17 270.75,162.96" fill="#1c1c1c" />
<line x1="299.80" y1="191.70" x2="271.90" y2="194.80" stroke="#1c1c1c" stroke-width="1.18" /><polygon points="271.90,194.80 276.23,193.01 276.52,195.60" fill="#1c1c1c" />
<line x1="299.80" y1="191.70" x2="259.50" y2="243.75" stroke="#1c1c1c" stroke-width="1.18" /><polygon points="259.50,243.75 261.23,239.40 263.28,240.99" fill="#1c1c1c" />
<line x1="301.10" y1="191.80" x2="305.70" y2="191.80" stroke="#1c1c1c" stroke-width="1.06" />
<polygon points="306.70,186.60 310.00,186.60 352.00,198.60 359.20,199.20 359.20,212.30 353.20,211.60 352.60,209.20 308.00,195.30" fill="#fff" stroke="#1c1c1c" stroke-width="1.0" />
<polyline points="306.90,187.20 352.00,199.60 359.00,200.20" fill="none" stroke="#1c1c1c" stroke-width="2.83" />
<polyline points="308.00,194.90 352.80,208.80" fill="none" stroke="#1c1c1c" stroke-width="1.89" />
<line x1="307.40" y1="187.00" x2="308.20" y2="195.00" stroke="#1c1c1c" stroke-width="2.12" />
<line x1="358.60" y1="200.00" x2="358.60" y2="212.00" stroke="#1c1c1c" stroke-width="1.89" />
<polyline points="352.20,200.00 352.90,209.00 358.60,212.00" fill="none" stroke="#1c1c1c" stroke-width="1.42" />
<rect x="311.0" y="190.20000000000002" width="2.6" height="2.2" fill="#1c1c1c" transform="rotate(16 312.3 191.3)"/>
<rect x="320.0" y="192.5" width="2.6" height="2.2" fill="#1c1c1c" transform="rotate(16 321.3 193.6)"/>
<rect x="325.2" y="194.1" width="2.6" height="2.2" fill="#1c1c1c" transform="rotate(16 326.5 195.2)"/>
<rect x="342.5" y="200.5" width="2.6" height="2.2" fill="#1c1c1c" transform="rotate(16 343.8 201.6)"/>
<polyline points="309.50,192.50 349.00,204.50" fill="none" stroke="#1c1c1c" stroke-width="1.06" />
<ellipse cx="355.6" cy="208" rx="1.2" ry="2" fill="#fff" stroke="#1c1c1c" stroke-width="0.7"/>
<line x1="315.80" y1="195.30" x2="324.50" y2="206.00" stroke="#1c1c1c" stroke-width="1.06" />
<line x1="326.50" y1="206.50" x2="342.80" y2="205.00" stroke="#1c1c1c" stroke-width="1.06" />
<circle cx="319.40" cy="215.60" r="10.70" fill="#fff" stroke="#1c1c1c" stroke-width="1.30"/>
<polygon points="312.80,212.00 324.60,212.90 328.60,214.90 324.90,217.30 313.40,219.40" fill="#1c1c1c" stroke="#1c1c1c" stroke-width="0.6" />
<line x1="315.60" y1="213.40" x2="315.90" y2="217.60" stroke="#999" stroke-width="0.47" />
<line x1="317.70" y1="213.45" x2="318.00" y2="217.35" stroke="#999" stroke-width="0.47" />
<line x1="319.80" y1="213.50" x2="320.10" y2="217.10" stroke="#999" stroke-width="0.47" />
<line x1="321.90" y1="213.55" x2="322.20" y2="216.85" stroke="#999" stroke-width="0.47" />
<line x1="324.00" y1="213.60" x2="324.30" y2="216.60" stroke="#999" stroke-width="0.47" />
<ellipse cx="311.8" cy="216.0" rx="1.7" ry="3.7" fill="#fff" stroke="#1c1c1c" stroke-width="1.1" transform="rotate(-8 311.8 216)"/>
<line x1="311.50" y1="213.60" x2="312.10" y2="218.40" stroke="#1c1c1c" stroke-width="0.94" />
<line x1="310.70" y1="216.20" x2="312.90" y2="215.80" stroke="#1c1c1c" stroke-width="0.94" />
<circle cx="9.90" cy="291.60" r="9.90" fill="#fff" stroke="#1c1c1c" stroke-width="1.18"/>
<ellipse cx="7.2" cy="294.8" rx="3.1" ry="6" fill="#fff" stroke="#1c1c1c" stroke-width="1.0" transform="rotate(-12 7.2 294.8)"/>
<polyline points="9.90,291.50 12.20,292.60 12.80,295.20 10.20,296.80" fill="none" stroke="#1c1c1c" stroke-width="1.06" />
<line x1="42.80" y1="307.00" x2="60.70" y2="282.30" stroke="#1c1c1c" stroke-width="1.06" />
<line x1="42.80" y1="307.00" x2="102.20" y2="297.10" stroke="#1c1c1c" stroke-width="1.06" />
<circle cx="60.75" cy="282.30" r="0.9" fill="#1c1c1c"/>
<circle cx="102.00" cy="297.00" r="0.9" fill="#1c1c1c"/>
<circle cx="26.30" cy="309.10" r="17.20" fill="#fff" stroke="#1c1c1c" stroke-width="1.30"/>
<g transform="translate(14.1 313.1) rotate(-9.36)">
<polygon points="0,-3.2 2.6,-2.0 2.6,2.0 0,3.2" fill="#1c1c1c" stroke="#1c1c1c" stroke-width="0.8"/>
<rect x="2.8" y="-1.7" width="3.6" height="3.4" fill="#fff" stroke="#1c1c1c" stroke-width="0.9"/>
<rect x="6.6" y="-2.3" width="22.2" height="4.6" rx="1.0" fill="#1c1c1c"/>
<line x1="8.60" y1="-1.0" x2="8.80" y2="1.1" stroke="#bbb" stroke-width="0.6" stroke-linecap="butt"/>
<line x1="10.50" y1="-1.0" x2="10.70" y2="1.1" stroke="#bbb" stroke-width="0.6" stroke-linecap="butt"/>
<line x1="12.40" y1="-1.0" x2="12.60" y2="1.1" stroke="#bbb" stroke-width="0.6" stroke-linecap="butt"/>
<line x1="14.30" y1="-1.0" x2="14.50" y2="1.1" stroke="#bbb" stroke-width="0.6" stroke-linecap="butt"/>
<line x1="16.20" y1="-1.0" x2="16.40" y2="1.1" stroke="#bbb" stroke-width="0.6" stroke-linecap="butt"/>
<line x1="18.10" y1="-1.0" x2="18.30" y2="1.1" stroke="#bbb" stroke-width="0.6" stroke-linecap="butt"/>
<line x1="20.00" y1="-1.0" x2="20.20" y2="1.1" stroke="#bbb" stroke-width="0.6" stroke-linecap="butt"/>
<line x1="21.90" y1="-1.0" x2="22.10" y2="1.1" stroke="#bbb" stroke-width="0.6" stroke-linecap="butt"/>
<line x1="23.80" y1="-1.0" x2="24.00" y2="1.1" stroke="#bbb" stroke-width="0.6" stroke-linecap="butt"/>
<line x1="25.70" y1="-1.0" x2="25.90" y2="1.1" stroke="#bbb" stroke-width="0.6" stroke-linecap="butt"/>
<ellipse cx="0" cy="0" rx="1.8" ry="3.3" fill="#1c1c1c"/>
</g>
<line x1="60.30" y1="292.30" x2="83.00" y2="310.70" stroke="#1c1c1c" stroke-width="1.06" />
<line x1="83.00" y1="310.70" x2="99.80" y2="306.40" stroke="#1c1c1c" stroke-width="1.06" />
<circle cx="78.70" cy="325.90" r="15.60" fill="#fff" stroke="#1c1c1c" stroke-width="1.30"/>
<polygon points="68.40,324.20 81.60,321.60 92.00,326.80 92.00,329.60 80.60,333.20 68.40,327.00" fill="#fff" stroke="#1c1c1c" stroke-width="0.9" />
<polyline points="68.40,324.20 80.60,330.40 92.00,326.80" fill="none" stroke="#1c1c1c" stroke-width="1.06" />
<line x1="80.60" y1="330.40" x2="80.60" y2="333.20" stroke="#1c1c1c" stroke-width="0.94" />
<polyline points="81.60,321.60 84.50,325.60 88.80,328.00" fill="none" stroke="#1c1c1c" stroke-width="0.94" />
<polyline points="72.00,324.20 81.40,328.60" fill="none" stroke="#1c1c1c" stroke-width="0.71" />
<polygon points="80.60,330.60 92.00,327.00 92.00,329.60 80.60,333.20" fill="#555" />
<line x1="76.30" y1="333.00" x2="76.30" y2="350.00" stroke="#000" stroke-width="2.36" />
</g>
<g id="drawer" stroke-linecap="round" stroke-linejoin="round">
<polygon points="476.25,32.50 600.90,13.10 600.90,43.80 476.25,64.00" fill="#fff" stroke="#1c1c1c" stroke-width="1.18" />
<polyline points="476.25,32.50 600.90,13.10" fill="none" stroke="#1c1c1c" stroke-width="2.12" />
<line x1="478.60" y1="32.60" x2="478.60" y2="52.00" stroke="#1c1c1c" stroke-width="1.06" />
<circle cx="477.40" cy="47.50" r="0.6" fill="#1c1c1c"/>
<text x="525.50" y="44.20" font-family="'Liberation Serif', serif" font-size="15.2" font-weight="normal" text-anchor="middle" fill="#111" stroke="#111" stroke-width="0.18" >8</text>
<polyline points="501.10,60.00 544.70,52.20" fill="none" stroke="#1c1c1c" stroke-width="1.06" />
<polyline points="564.50,53.90 594.80,52.00 606.20,57.20" fill="none" stroke="#1c1c1c" stroke-width="1.06" />
<polyline points="513.40,64.80 555.00,57.80 606.20,57.20" fill="none" stroke="#1c1c1c" stroke-width="1.06" />
<polyline points="514.00,89.60 521.10,92.20 531.40,90.50" fill="none" stroke="#1c1c1c" stroke-width="2.01" />
<text x="522.40" y="78.70" font-family="'Liberation Serif', serif" font-size="15.6" font-weight="normal" text-anchor="middle" fill="#111" stroke="#111" stroke-width="0.18" >10</text>
<polygon points="607.90,17.30 664.10,37.40 667.10,36.60 667.10,66.80 664.10,67.70 607.90,47.60" fill="#fff" stroke="#1c1c1c" stroke-width="1.18" />
<polyline points="607.90,17.30 664.10,37.40" fill="none" stroke="#1c1c1c" stroke-width="2.36" />
<polyline points="610.50,16.70 667.10,36.60" fill="none" stroke="#1c1c1c" stroke-width="0.94" />
<line x1="664.10" y1="37.40" x2="664.10" y2="67.70" stroke="#1c1c1c" stroke-width="1.18" />
<circle cx="609.30" cy="32.80" r="0.8" fill="#1c1c1c"/>
<circle cx="662.40" cy="52.00" r="0.8" fill="#1c1c1c"/>
<text x="632.90" y="46.80" font-family="'Liberation Serif', serif" font-size="15.2" font-weight="normal" text-anchor="middle" fill="#111" stroke="#111" stroke-width="0.18" >6</text>
<polygon points="454.50,45.00 509.60,63.40 513.40,62.90 513.40,94.60 509.60,95.20 454.50,76.25" fill="#fff" stroke="#1c1c1c" stroke-width="1.18" />
<polyline points="454.50,45.00 509.60,63.40" fill="none" stroke="#1c1c1c" stroke-width="2.36" />
<polyline points="457.50,44.30 513.40,62.90" fill="none" stroke="#1c1c1c" stroke-width="0.94" />
<line x1="509.60" y1="63.40" x2="509.60" y2="95.20" stroke="#1c1c1c" stroke-width="1.18" />
<circle cx="455.60" cy="60.70" r="0.8" fill="#1c1c1c"/>
<circle cx="508.70" cy="80.00" r="0.9" fill="#1c1c1c"/>
<text x="483.00" y="72.20" font-family="'Liberation Serif', serif" font-size="15.2" font-weight="normal" text-anchor="middle" fill="#111" stroke="#111" stroke-width="0.18" >6</text>
<polygon points="531.60,69.60 654.80,51.00 654.80,72.50 533.40,100.40 531.60,100.00" fill="#fff" stroke="#1c1c1c" stroke-width="1.18" />
<polyline points="531.60,69.60 654.80,51.00" fill="none" stroke="#1c1c1c" stroke-width="2.36" />
<line x1="533.40" y1="70.20" x2="533.40" y2="100.40" stroke="#1c1c1c" stroke-width="1.06" />
<circle cx="532.50" cy="79.00" r="0.6" fill="#1c1c1c"/>
<circle cx="532.50" cy="85.50" r="0.6" fill="#1c1c1c"/>
<text x="586.60" y="78.20" font-family="'Liberation Serif', serif" font-size="15.2" font-weight="normal" text-anchor="middle" fill="#111" stroke="#111" stroke-width="0.18" >7</text>
<polygon points="544.50,89.50 688.40,67.00 688.40,115.50 547.30,137.50 544.50,137.00" fill="#fff" stroke="#1c1c1c" stroke-width="1.18" />
<polyline points="544.50,89.50 688.40,67.00" fill="none" stroke="#1c1c1c" stroke-width="2.36" />
<line x1="547.30" y1="89.80" x2="547.30" y2="137.50" stroke="#1c1c1c" stroke-width="1.06" />
<text x="628.80" y="107.20" font-family="'Liberation Serif', serif" font-size="15.2" font-weight="normal" text-anchor="middle" fill="#111" stroke="#111" stroke-width="0.18" >9</text>
<line x1="559.60" y1="51.30" x2="548.25" y2="82.50" stroke="#1c1c1c" stroke-width="1.06" stroke-dasharray="8 2 1.5 2"/>
<circle cx="548.25" cy="82.50" r="1.25" fill="#1c1c1c"/>
<line x1="559.60" y1="51.30" x2="578.30" y2="78.40" stroke="#1c1c1c" stroke-width="1.06" stroke-dasharray="8 2 1.5 2"/>
<circle cx="578.30" cy="78.40" r="1.25" fill="#1c1c1c"/>
<line x1="559.60" y1="51.30" x2="609.60" y2="73.40" stroke="#1c1c1c" stroke-width="1.06" stroke-dasharray="8 2 1.5 2"/>
<circle cx="609.60" cy="73.40" r="1.25" fill="#1c1c1c"/>
<line x1="559.60" y1="51.30" x2="640.10" y2="68.50" stroke="#1c1c1c" stroke-width="1.06" stroke-dasharray="8 2 1.5 2"/>
<circle cx="640.10" cy="68.50" r="1.25" fill="#1c1c1c"/>
<circle cx="552.90" cy="44.60" r="9.80" fill="#fff" stroke="#1c1c1c" stroke-width="1.18"/>
<polygon points="546.20,40.60 559.60,45.80 558.80,48.20 545.60,43.40" fill="#1c1c1c" stroke="#1c1c1c" stroke-width="0.8" />
<line x1="549.00" y1="43.00" x2="557.60" y2="46.40" stroke="#999" stroke-width="0.59" />
<text x="548.90" y="32.50" font-family="'Liberation Serif', serif" font-size="16.5" font-weight="normal" text-anchor="start" fill="#111" textLength="33" lengthAdjust="spacingAndGlyphs" stroke="#111" stroke-width="0.18" font-style="italic" transform="rotate(29.5 548.9 32.5)">4x30</text>
<line x1="438.75" y1="70.75" x2="455.00" y2="60.75" stroke="#1c1c1c" stroke-width="1.06" />
<line x1="438.75" y1="70.75" x2="508.50" y2="80.00" stroke="#1c1c1c" stroke-width="1.06" />
<circle cx="418.00" cy="66.25" r="21.00" fill="#fff" stroke="#1c1c1c" stroke-width="1.30"/>
<g transform="translate(400.4 68.6) rotate(-8.91)">
<polygon points="0,-4.4 4.2,-2.6 4.2,2.6 0,4.4" fill="#1c1c1c" stroke="#1c1c1c" stroke-width="0.8"/>
<rect x="4.2" y="-2.5" width="4.8" height="5" fill="#fff" stroke="#1c1c1c" stroke-width="1.1"/>
<rect x="9" y="-3.4" width="27.4" height="6.8" rx="1.6" fill="#1c1c1c"/>
<line x1="11.40" y1="-1.7" x2="11.65" y2="1.9" stroke="#fff" stroke-width="0.95" stroke-linecap="butt"/>
<line x1="13.42" y1="-1.7" x2="13.67" y2="1.9" stroke="#fff" stroke-width="0.95" stroke-linecap="butt"/>
<line x1="15.44" y1="-1.7" x2="15.69" y2="1.9" stroke="#fff" stroke-width="0.95" stroke-linecap="butt"/>
<line x1="17.46" y1="-1.7" x2="17.71" y2="1.9" stroke="#fff" stroke-width="0.95" stroke-linecap="butt"/>
<line x1="19.48" y1="-1.7" x2="19.73" y2="1.9" stroke="#fff" stroke-width="0.95" stroke-linecap="butt"/>
<line x1="21.50" y1="-1.7" x2="21.75" y2="1.9" stroke="#fff" stroke-width="0.95" stroke-linecap="butt"/>
<line x1="23.52" y1="-1.7" x2="23.77" y2="1.9" stroke="#fff" stroke-width="0.95" stroke-linecap="butt"/>
<line x1="25.54" y1="-1.7" x2="25.79" y2="1.9" stroke="#fff" stroke-width="0.95" stroke-linecap="butt"/>
<line x1="27.56" y1="-1.7" x2="27.81" y2="1.9" stroke="#fff" stroke-width="0.95" stroke-linecap="butt"/>
<line x1="29.58" y1="-1.7" x2="29.83" y2="1.9" stroke="#fff" stroke-width="0.95" stroke-linecap="butt"/>
<line x1="31.60" y1="-1.7" x2="31.85" y2="1.9" stroke="#fff" stroke-width="0.95" stroke-linecap="butt"/>
<line x1="33.62" y1="-1.7" x2="33.87" y2="1.9" stroke="#fff" stroke-width="0.95" stroke-linecap="butt"/>
<ellipse cx="0" cy="0" rx="2.3" ry="4.5" fill="#1c1c1c" stroke="#1c1c1c" stroke-width="0.8"/>
<ellipse cx="0.1" cy="0" rx="0.8" ry="1.5" fill="#ddd"/>
</g>
<polygon points="450.70,88.80 505.50,106.30 506.70,112.90 510.10,113.70 498.70,112.60 455.20,98.20 451.00,97.50" fill="#fff" stroke="#1c1c1c" stroke-width="1.18" />
<polyline points="450.70,88.80 505.50,106.30" fill="none" stroke="#1c1c1c" stroke-width="2.60" />
<polyline points="454.50,91.90 504.80,108.20" fill="none" stroke="#1c1c1c" stroke-width="0.94" />
<polyline points="505.50,106.30 506.70,113.00" fill="none" stroke="#1c1c1c" stroke-width="1.42" />
<polyline points="455.20,98.20 498.70,112.60 510.10,113.70" fill="none" stroke="#1c1c1c" stroke-width="1.42" />
<ellipse cx="451.9" cy="93.4" rx="2.6" ry="4.7" fill="#fff" stroke="#1c1c1c" stroke-width="1.5" transform="rotate(-14 451.9 93.4)"/>
<ellipse cx="451.7" cy="93.4" rx="0.9" ry="1.8" fill="none" stroke="#1c1c1c" stroke-width="0.7" transform="rotate(-14 451.7 93.4)"/>
<line x1="468.75" y1="116.25" x2="460.00" y2="98.75" stroke="#1c1c1c" stroke-width="1.06" />
<line x1="468.75" y1="116.25" x2="500.00" y2="112.50" stroke="#1c1c1c" stroke-width="1.06" />
<circle cx="464.60" cy="128.90" r="13.50" fill="#fff" stroke="#1c1c1c" stroke-width="1.30"/>
<polygon points="462.90,119.40 464.90,117.40 466.90,119.40 467.30,133.40 462.60,133.40" fill="#1c1c1c" stroke="#1c1c1c" stroke-width="0.8" />
<line x1="463.20" y1="121.40" x2="466.80" y2="120.70" stroke="#bbb" stroke-width="0.53" />
<line x1="463.20" y1="123.50" x2="466.80" y2="122.80" stroke="#bbb" stroke-width="0.53" />
<line x1="463.20" y1="125.60" x2="466.80" y2="124.90" stroke="#bbb" stroke-width="0.53" />
<line x1="463.20" y1="127.70" x2="466.80" y2="127.00" stroke="#bbb" stroke-width="0.53" />
<line x1="463.20" y1="129.80" x2="466.80" y2="129.10" stroke="#bbb" stroke-width="0.53" />
<line x1="463.20" y1="131.90" x2="466.80" y2="131.20" stroke="#bbb" stroke-width="0.53" />
<polygon points="460.00,136.60 462.60,133.20 467.20,133.20 469.80,136.60" fill="#1c1c1c" stroke="#1c1c1c" stroke-width="0.6" />
<ellipse cx="464.9" cy="137.0" rx="4.7" ry="1.2" fill="#fff" stroke="#1c1c1c" stroke-width="0.9"/>
<line x1="529.20" y1="134.50" x2="515.50" y2="91.00" stroke="#1c1c1c" stroke-width="1.06" />
<line x1="529.20" y1="134.50" x2="528.60" y2="92.00" stroke="#1c1c1c" stroke-width="1.06" />
<circle cx="529.20" cy="145.00" r="10.50" fill="#fff" stroke="#1c1c1c" stroke-width="1.30"/>
<line x1="529.00" y1="135.40" x2="529.00" y2="154.20" stroke="#1c1c1c" stroke-width="1.77" />
<line x1="527.70" y1="135.60" x2="530.30" y2="135.60" stroke="#1c1c1c" stroke-width="1.18" />
</g>
<g id="hw-icons" stroke-linecap="round" stroke-linejoin="round">
<g transform="translate(29.2 630.8) rotate(-28.87)">
<polygon points="0,-5.6 4.6,-3.3 4.6,3.3 0,5.6" fill="#fff" stroke="#1c1c1c" stroke-width="1.0"/>
<rect x="4.6" y="-3.3" width="6.2" height="6.6" fill="#fff" stroke="#1c1c1c" stroke-width="1.0"/>
<path d="M10.8,-3.5 L42,-3.5 Q44.6,-2.6 44.6,0 Q44.6,2.6 42,3.5 L10.8,3.5 Z" fill="#fff" stroke="#1c1c1c" stroke-width="1.7"/>
<line x1="11.60" y1="3.0" x2="13.10" y2="-3.0" stroke="#1c1c1c" stroke-width="1.15"/>
<line x1="13.90" y1="3.0" x2="15.40" y2="-3.0" stroke="#1c1c1c" stroke-width="1.15"/>
<line x1="16.20" y1="3.0" x2="17.70" y2="-3.0" stroke="#1c1c1c" stroke-width="1.15"/>
<line x1="18.50" y1="3.0" x2="20.00" y2="-3.0" stroke="#1c1c1c" stroke-width="1.15"/>
<line x1="20.80" y1="3.0" x2="22.30" y2="-3.0" stroke="#1c1c1c" stroke-width="1.15"/>
<line x1="23.10" y1="3.0" x2="24.60" y2="-3.0" stroke="#1c1c1c" stroke-width="1.15"/>
<line x1="25.40" y1="3.0" x2="26.90" y2="-3.0" stroke="#1c1c1c" stroke-width="1.15"/>
<line x1="27.70" y1="3.0" x2="29.20" y2="-3.0" stroke="#1c1c1c" stroke-width="1.15"/>
<line x1="30.00" y1="3.0" x2="31.50" y2="-3.0" stroke="#1c1c1c" stroke-width="1.15"/>
<line x1="32.30" y1="3.0" x2="33.80" y2="-3.0" stroke="#1c1c1c" stroke-width="1.15"/>
<line x1="34.60" y1="3.0" x2="36.10" y2="-3.0" stroke="#1c1c1c" stroke-width="1.15"/>
<line x1="36.90" y1="3.0" x2="38.40" y2="-3.0" stroke="#1c1c1c" stroke-width="1.15"/>
<line x1="39.20" y1="3.0" x2="40.70" y2="-3.0" stroke="#1c1c1c" stroke-width="1.15"/>
<line x1="41.50" y1="3.0" x2="43.00" y2="-3.0" stroke="#1c1c1c" stroke-width="1.15"/>
<circle cx="42.6" cy="0" r="1.2" fill="#fff" stroke="#1c1c1c" stroke-width="0.7"/>
<ellipse cx="0" cy="0" rx="3.6" ry="5.7" fill="#fff" stroke="#1c1c1c" stroke-width="1.2"/>
<ellipse cx="0" cy="0" rx="1.5" ry="2.3" fill="#1c1c1c"/>
</g>
<polygon points="100.60,615.60 102.80,614.60 104.60,616.60 104.20,619.40 102.20,620.60" fill="#1c1c1c" stroke="#1c1c1c" stroke-width="0.8" />
<polygon points="102.40,616.60 103.60,617.20 103.30,618.80 102.40,619.00" fill="#fff" />
<ellipse cx="97" cy="621" rx="5.6" ry="8.7" fill="#fff" stroke="#1c1c1c" stroke-width="1.1" transform="rotate(-27 97 621)"/>
<polyline points="153.40,602.30 128.20,615.90 171.90,640.90" fill="none" stroke="#1c1c1c" stroke-width="5.94" stroke-linejoin="round" stroke-linecap="butt"/>
<polyline points="153.60,602.20 128.20,615.90 172.10,641.00" fill="none" stroke="#fff" stroke-width="3.74" stroke-linejoin="round" stroke-linecap="butt"/>
<polyline points="153.40,602.40 129.60,615.50 172.20,640.00" fill="none" stroke="#1c1c1c" stroke-width="0.99" />
<polyline points="133.60,615.90 154.40,604.40" fill="none" stroke="#1c1c1c" stroke-width="1.65" />
<polyline points="126.40,617.30 170.60,642.90" fill="none" stroke="#1c1c1c" stroke-width="1.76" />
<ellipse cx="172.2" cy="641.1" rx="1.6" ry="2.6" fill="#fff" stroke="#1c1c1c" stroke-width="0.9" transform="rotate(-30 172.2 641.1)"/>
<ellipse cx="153.6" cy="602.2" rx="1.6" ry="2.6" fill="#fff" stroke="#1c1c1c" stroke-width="0.9" transform="rotate(28 153.6 602.2)"/>
<path d="M203.1,609.2 Q212.5,604.0 225.6,621.6" fill="none" stroke="#1c1c1c" stroke-width="1.5"/>
<path d="M204.6,610.4 Q212.4,607.2 223.4,620.6" fill="none" stroke="#1c1c1c" stroke-width="0.9"/>
<polygon points="183.90,615.90 200.00,606.30 201.40,606.60 203.10,609.60 225.30,622.00 229.70,623.30 229.70,627.30 213.50,636.60 183.90,619.90" fill="#fff" stroke="#1c1c1c" stroke-width="1.21" />
<polyline points="183.90,615.90 213.50,632.80 229.70,623.30" fill="none" stroke="#1c1c1c" stroke-width="1.21" />
<line x1="213.50" y1="632.80" x2="213.50" y2="636.60" stroke="#1c1c1c" stroke-width="1.10" />
<polyline points="184.30,617.30 213.30,634.20" fill="none" stroke="#1c1c1c" stroke-width="0.66" />
<polyline points="215.20,632.60 215.20,635.40" fill="none" stroke="#1c1c1c" stroke-width="1.54" />
<polyline points="227.60,625.20 227.60,628.20" fill="none" stroke="#1c1c1c" stroke-width="1.76" />
<polyline points="215.40,633.60 227.60,626.60" fill="none" stroke="#1c1c1c" stroke-width="0.77" />
<ellipse cx="195.9" cy="613.7" rx="1.5" ry="1.0" fill="#1c1c1c"/><ellipse cx="217.5" cy="625.9" rx="1.5" ry="1.0" fill="#1c1c1c"/>
<polygon points="248.90,613.00 250.70,613.00 250.50,629.00 249.80,631.40 249.10,629.00" fill="#1c1c1c" stroke="#1c1c1c" stroke-width="0.5" />
<ellipse cx="249.8" cy="612.6" rx="1.6" ry="0.9" fill="#1c1c1c"/>
<g transform="translate(281.80 627.30) rotate(-29.85)">
<polygon points="0,-4.80 4.32,-2.70 4.32,2.70 0,4.80" fill="#fff" stroke="#1c1c1c" stroke-width="0.9"/>
<polygon points="4.32,-2.70 16.24,-2.70 21.10,0 16.24,2.70 4.32,2.70" fill="#1c1c1c" stroke="#1c1c1c" stroke-width="0.8"/>
<line x1="4.77" y1="-2.20" x2="5.77" y2="2.20" stroke="#e8e8e8" stroke-width="0.7"/>
<line x1="6.66" y1="-2.20" x2="7.66" y2="2.20" stroke="#e8e8e8" stroke-width="0.7"/>
<line x1="8.56" y1="-2.20" x2="9.56" y2="2.20" stroke="#e8e8e8" stroke-width="0.7"/>
<line x1="10.46" y1="-2.20" x2="11.46" y2="2.20" stroke="#e8e8e8" stroke-width="0.7"/>
<line x1="12.35" y1="-2.20" x2="13.35" y2="2.20" stroke="#e8e8e8" stroke-width="0.7"/>
<line x1="14.25" y1="-2.20" x2="15.25" y2="2.20" stroke="#e8e8e8" stroke-width="0.7"/>
<ellipse cx="0" cy="0" rx="3.10" ry="4.80" fill="#fff" stroke="#1c1c1c" stroke-width="1.1"/>
</g>
<line x1="280.40" y1="624.90" x2="283.20" y2="629.70" stroke="#1c1c1c" stroke-width="0.99" />
<line x1="279.60" y1="628.60" x2="284.00" y2="626.00" stroke="#1c1c1c" stroke-width="0.99" />
<g transform="translate(316.60 632.80) rotate(-29.38)">
<polygon points="0,-4.70 4.23,-2.20 4.23,2.20 0,4.70" fill="#fff" stroke="#1c1c1c" stroke-width="0.9"/>
<polygon points="4.23,-2.20 31.50,-2.20 35.46,0 31.50,2.20 4.23,2.20" fill="#1c1c1c" stroke="#1c1c1c" stroke-width="0.8"/>
<line x1="4.85" y1="-1.70" x2="5.85" y2="1.70" stroke="#e8e8e8" stroke-width="0.7"/>
<line x1="7.08" y1="-1.70" x2="8.08" y2="1.70" stroke="#e8e8e8" stroke-width="0.7"/>
<line x1="9.32" y1="-1.70" x2="10.32" y2="1.70" stroke="#e8e8e8" stroke-width="0.7"/>
<line x1="11.56" y1="-1.70" x2="12.56" y2="1.70" stroke="#e8e8e8" stroke-width="0.7"/>
<line x1="13.79" y1="-1.70" x2="14.79" y2="1.70" stroke="#e8e8e8" stroke-width="0.7"/>
<line x1="16.03" y1="-1.70" x2="17.03" y2="1.70" stroke="#e8e8e8" stroke-width="0.7"/>
<line x1="18.26" y1="-1.70" x2="19.26" y2="1.70" stroke="#e8e8e8" stroke-width="0.7"/>
<line x1="20.50" y1="-1.70" x2="21.50" y2="1.70" stroke="#e8e8e8" stroke-width="0.7"/>
<line x1="22.74" y1="-1.70" x2="23.74" y2="1.70" stroke="#e8e8e8" stroke-width="0.7"/>
<line x1="24.97" y1="-1.70" x2="25.97" y2="1.70" stroke="#e8e8e8" stroke-width="0.7"/>
<line x1="27.21" y1="-1.70" x2="28.21" y2="1.70" stroke="#e8e8e8" stroke-width="0.7"/>
<line x1="29.44" y1="-1.70" x2="30.44" y2="1.70" stroke="#e8e8e8" stroke-width="0.7"/>
<ellipse cx="0" cy="0" rx="3.10" ry="4.70" fill="#fff" stroke="#1c1c1c" stroke-width="1.1"/>
</g>
<line x1="315.20" y1="630.40" x2="318.00" y2="635.20" stroke="#1c1c1c" stroke-width="0.99" />
<line x1="314.40" y1="634.10" x2="318.80" y2="631.50" stroke="#1c1c1c" stroke-width="0.99" />
<g transform="translate(358 632.5) rotate(-28.22)">
<rect x="2.5" y="-1.7" width="6" height="3.4" fill="#fff" stroke="#1c1c1c" stroke-width="1.0"/>
<ellipse cx="8.6" cy="0" rx="1.7" ry="3.5" fill="#fff" stroke="#1c1c1c" stroke-width="1.0"/>
<path d="M9.6,-4.5 L36,-4.5 L36,4.5 L9.6,4.5 Q11.4,0 9.6,-4.5 Z" fill="#fff" stroke="#1c1c1c" stroke-width="1.1"/>
<rect x="36" y="-3.7" width="12" height="7.4" rx="2.2" fill="#1c1c1c" stroke="#1c1c1c" stroke-width="0.9"/>
<line x1="38.3" y1="-2.6" x2="39.3" y2="3.0" stroke="#ccc" stroke-width="0.9"/>
<line x1="40.8" y1="-2.6" x2="41.8" y2="3.0" stroke="#ccc" stroke-width="0.9"/>
<line x1="43.3" y1="-2.6" x2="44.3" y2="3.0" stroke="#ccc" stroke-width="0.9"/>
<line x1="45.8" y1="-2.6" x2="46.8" y2="3.0" stroke="#ccc" stroke-width="0.9"/>
<circle cx="0" cy="0" r="3.9" fill="#1c1c1c" stroke="#1c1c1c" stroke-width="0.8"/>
<line x1="0.4" y1="-2.6" x2="2.2" y2="2.6" stroke="#fff" stroke-width="1.3"/>
<circle cx="-2.0" cy="-1.0" r="0.45" fill="#fff"/><circle cx="-1.6" cy="1.8" r="0.45" fill="#fff"/>
</g>
<path d="M417.7,615.5 L417.9,627 L416.8,629.4 L419.6,630.2 L420.6,633 L425,634.6 L431,635.3 Q434.4,634.4 434.4,631 L434.9,615.5 Z" fill="#1c1c1c" stroke="#1c1c1c" stroke-width="0.8"/>
<rect x="420.6" y="621.8" width="8.4" height="3.4" fill="#fff"/><rect x="422.0" y="622.5" width="1.3" height="2.0" fill="#1c1c1c"/><rect x="424.3" y="622.5" width="1.3" height="2.0" fill="#1c1c1c"/><rect x="426.6" y="622.5" width="1.2" height="2.0" fill="#1c1c1c"/>
<path d="M418.6,626.8 L425.8,628.4 L425.8,630.4 L419.8,629.2 Z" fill="#fff"/><path d="M427.6,627.6 L433.4,626.2 L433.2,628.8 L427.6,630.4 Z" fill="#fff"/>
<path d="M422.4,632.2 L430.4,633.2 L433,631.2" fill="none" stroke="#fff" stroke-width="1.0"/>
<path d="M430.6,621.2 L433.6,620.6 L433.4,624.4 L430.6,625 Z" fill="#fff"/>
<ellipse cx="426.3" cy="615" rx="8.7" ry="5.3" fill="#fff" stroke="#1c1c1c" stroke-width="1.4"/>
<path d="M417.7,615.5 Q418.8,621.6 426.3,621.8 Q433.8,621.6 434.9,615.5" fill="none" stroke="#1c1c1c" stroke-width="1.0"/>
<path d="M421.6,612.8 L431,617.2 M430.8,612.8 L421.8,617.2" stroke="#1c1c1c" stroke-width="2.6" fill="none" stroke-linecap="butt"/>
<path d="M422.8,613.4 L429.8,616.6 M429.6,613.4 L423,616.6" stroke="#fff" stroke-width="0.9" fill="none"/>
<ellipse cx="490.9" cy="619.4" rx="13" ry="7.6" fill="#fff" stroke="#1c1c1c" stroke-width="1.1"/>
<ellipse cx="490.9" cy="618.7" rx="13" ry="7.7" fill="none" stroke="#1c1c1c" stroke-width="0.6"/>
<ellipse cx="490.9" cy="618.0" rx="13" ry="7.7" fill="#fff" stroke="#1c1c1c" stroke-width="1.1"/>
<g transform="translate(537.6 620) rotate(-28.36)">
<rect x="0" y="-3.0" width="20.2" height="6.0" rx="2.6" fill="#fff" stroke="#1c1c1c" stroke-width="1.5"/>
<line x1="2.8" y1="-1.4" x2="19" y2="-1.4" stroke="#1c1c1c" stroke-width="0.7"/><line x1="2.8" y1="0.5" x2="19.4" y2="0.5" stroke="#1c1c1c" stroke-width="0.9"/><line x1="2.6" y1="2.0" x2="18.6" y2="2.0" stroke="#1c1c1c" stroke-width="0.8"/>
<ellipse cx="1.2" cy="0" rx="1.7" ry="2.9" fill="#fff" stroke="#1c1c1c" stroke-width="1.1"/>
</g>
<polygon points="571.50,596.60 574.50,596.40 653.70,622.00 662.60,623.60 662.60,637.60 655.00,636.60 653.70,632.40 571.80,605.60" fill="#fff" stroke="#1c1c1c" stroke-width="0.9" />
<polyline points="571.70,597.00 653.70,622.70 662.40,624.20" fill="none" stroke="#1c1c1c" stroke-width="2.20" />
<polyline points="571.80,605.30 653.70,632.20" fill="none" stroke="#1c1c1c" stroke-width="1.65" />
<polyline points="573.00,602.90 652.00,628.80" fill="none" stroke="#1c1c1c" stroke-width="0.66" />
<line x1="572.00" y1="596.80" x2="572.20" y2="605.40" stroke="#1c1c1c" stroke-width="1.65" />
<line x1="662.30" y1="624.00" x2="662.30" y2="637.40" stroke="#1c1c1c" stroke-width="1.54" />
<polyline points="654.00,623.40 654.50,632.40 656.00,636.40" fill="none" stroke="#1c1c1c" stroke-width="1.10" />
<rect x="656.6" y="628" width="4.2" height="6.6" fill="#fff" stroke="#1c1c1c" stroke-width="1.0"/><rect x="657.8" y="629.6" width="1.8" height="3.4" fill="#1c1c1c"/>
<rect x="577.2" y="600.8" width="1.6" height="2" fill="#1c1c1c" transform="rotate(18 578 601.8)"/>
<rect x="584.3000000000001" y="603.4" width="2.6" height="2" fill="#1c1c1c" transform="rotate(18 585.6 604.4)"/>
<rect x="590.4" y="605" width="1.2" height="2" fill="#1c1c1c" transform="rotate(18 591 606)"/>
<rect x="598.7" y="608.3" width="2.6" height="2" fill="#1c1c1c" transform="rotate(18 600 609.3)"/>
<rect x="625.0" y="617" width="2.6" height="2" fill="#1c1c1c" transform="rotate(18 626.3 618)"/>
<rect x="645.3" y="623.8" width="1.4" height="2" fill="#1c1c1c" transform="rotate(18 646 624.8)"/>
<polygon points="572.80,613.20 662.40,642.60 661.20,650.40 657.60,649.40 569.20,620.20" fill="#fff" stroke="#1c1c1c" stroke-width="0.9" />
<polyline points="572.80,613.20 662.40,642.60" fill="none" stroke="#1c1c1c" stroke-width="1.76" />
<polyline points="572.60,616.60 659.00,645.20" fill="none" stroke="#1c1c1c" stroke-width="0.77" />
<polyline points="570.60,619.40 657.80,648.20" fill="none" stroke="#1c1c1c" stroke-width="1.43" />
<polyline points="572.80,613.20 572.60,616.60 569.20,620.20" fill="none" stroke="#1c1c1c" stroke-width="0.99" />
<polyline points="659.00,645.20 657.60,649.40" fill="none" stroke="#1c1c1c" stroke-width="0.88" />
<line x1="607.50" y1="632.60" x2="609.50" y2="633.30" stroke="#1c1c1c" stroke-width="1.76" />
</g>
</svg>
</body></html>
